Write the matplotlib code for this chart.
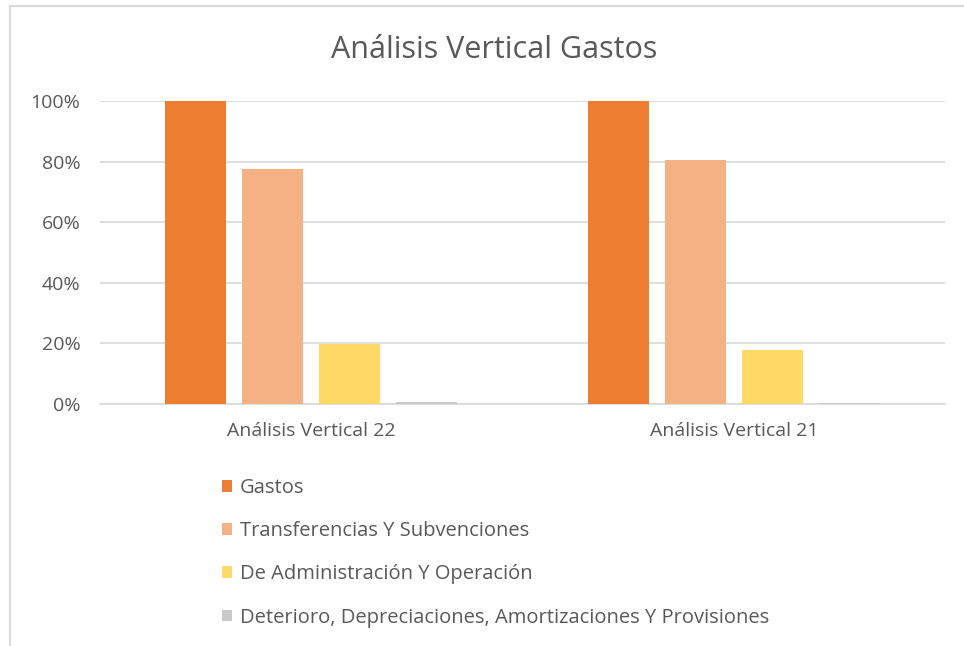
import numpy as np
import matplotlib.pyplot as plt
from matplotlib.lines import Line2D
from matplotlib.ticker import PercentFormatter

plt.rcParams['font.family'] = ['Open Sans', 'DejaVu Sans']

# Data (percent).
groups = ["Análisis Vertical 22", "Análisis Vertical 21"]
series = ["Gastos",
          "Transferencias Y Subvenciones",
          "De Administración Y Operación",
          "Deterioro, Depreciaciones, Amortizaciones Y Provisiones"]
gastos = [100.0, 100.0]
transferencias = [77.6, 80.5]
administracion = [19.9, 17.8]
deterioro = [0.5, 0.4]

values = [gastos, transferencias, administracion, deterioro]
colors = ["#ED7D31", "#F4B183", "#FFD966", "#C9C9C9"]
text_col = "#595959"

fig = plt.figure(figsize=(9.64, 6.46), dpi=100)
ax = fig.add_axes([100/964, 1-404/646, 845/964, 303/646])

x = np.arange(len(groups))
width = 0.144
step = 0.182
for i, (vals, col, name) in enumerate(zip(values, colors, series)):
    ax.bar(x + (i - 1.5) * step, vals, width, color=col, label=name, zorder=3)

ax.set_xlim(-0.5, 1.5)
ax.set_ylim(0, 100)
ax.set_yticks(np.arange(0, 101, 20))
ax.yaxis.set_major_formatter(PercentFormatter(decimals=0))
ax.set_xticks(x)
ax.set_xticklabels(groups)
ax.grid(axis='y', color="#D9D9D9", linewidth=1.2, zorder=0)
ax.set_axisbelow(True)
for s in ['top', 'right', 'left']:
    ax.spines[s].set_visible(False)
ax.spines['bottom'].set_color("#D9D9D9")
ax.spines['bottom'].set_linewidth(1.2)
ax.tick_params(axis='both', length=0, colors=text_col, labelsize=14)
ax.tick_params(axis='y', pad=14)
ax.tick_params(axis='x', pad=13)

fig.text(494/964, 1-50/646, "Análisis Vertical Gastos", ha='center', va='center',
         fontsize=22, color=text_col)

fig.legend(loc='upper left', bbox_to_anchor=(214/964, 1-470/646), frameon=False,
           fontsize=14.5, labelcolor=text_col, handlelength=0.5, handleheight=0.5,
           handletextpad=0.4, labelspacing=1.15, borderaxespad=0)

# Chart frame
fig.add_artist(Line2D([10/964, 10/964], [0, 1-6/646], color="#D9D9D9", lw=1.5))
fig.add_artist(Line2D([10/964, 1], [1-6/646, 1-6/646], color="#D9D9D9", lw=1.5))

fig.savefig("out.png", dpi=100)
